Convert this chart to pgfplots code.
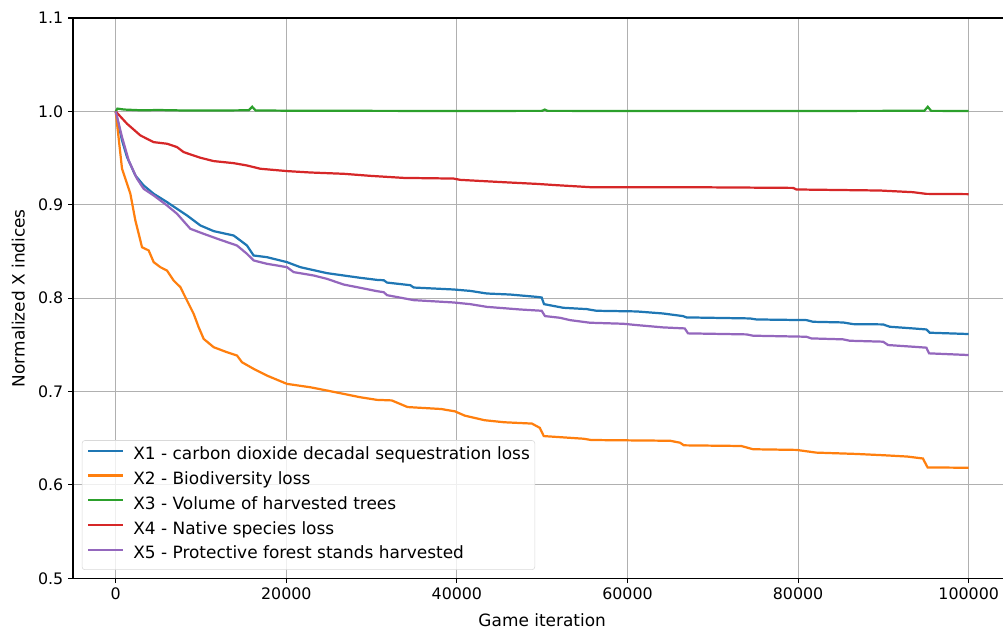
\documentclass[border=0pt]{standalone}
\usepackage{pgfplots}
\pgfplotsset{compat=1.18}
\usepackage{pgfplotstable}
\usepackage{fontspec}
\setmainfont{DejaVu Sans}

\definecolor{C0}{HTML}{1F77B4}
\definecolor{C1}{HTML}{FF7F0E}
\definecolor{C2}{HTML}{2CA02C}
\definecolor{C3}{HTML}{D62728}
\definecolor{C4}{HTML}{9467BD}
\definecolor{GRID}{HTML}{B0B0B0}

% X1 - carbon dioxide
\pgfplotstableread{
x y
0 1.0
742 0.9689
1328 0.9511
2305 0.9314
3281 0.9207
4453 0.9118
6016 0.9029
7188 0.8957
8359 0.8886
9922 0.8779
11484 0.8718
13828 0.8671
14609 0.8618
15391 0.8564
16172 0.8457
17734 0.8439
20078 0.8386
21641 0.8332
24766 0.8268
26719 0.8243
28672 0.8218
30625 0.8196
31423 0.8192
31813 0.8167
34542 0.8139
34932 0.8114
39610 0.8093
41559 0.8078
43509 0.8050
46238 0.8039
49357 0.8014
49942 0.8007
50214 0.7936
52475 0.7897
55205 0.7883
56374 0.7865
61053 0.7858
64172 0.7836
66511 0.7808
66914 0.7794
74336 0.7783
75117 0.7772
80977 0.7765
81758 0.7747
85273 0.7740
86445 0.7722
89961 0.7719
90742 0.7694
93477 0.7676
95039 0.7665
95430 0.7630
100000 0.7616
}\xone

% X2 - biodiversity
\pgfplotstableread{
x y
0 1.0
742 0.9386
1719 0.9118
2305 0.8832
3086 0.8546
3867 0.8511
4453 0.8386
5234 0.8332
6016 0.8296
6797 0.8189
7578 0.8118
8359 0.7975
9141 0.7832
9727 0.7689
10313 0.7564
11484 0.7475
13047 0.7421
14219 0.7386
14805 0.7314
16172 0.7243
17734 0.7171
20078 0.7082
22813 0.7046
24766 0.7011
26719 0.6975
28672 0.6939
30625 0.6911
32361 0.6905
34213 0.6834
38148 0.6813
39769 0.6788
40926 0.6742
43241 0.6693
45556 0.6671
48796 0.6657
49722 0.6611
50185 0.6523
54815 0.6495
55741 0.6481
65000 0.6473
66157 0.6452
66620 0.6424
73333 0.6417
74722 0.6382
79815 0.6375
82130 0.6346
86759 0.6332
90000 0.6318
92778 0.6304
94630 0.6283
95185 0.6187
100000 0.6184
}\xtwo

% X3 - harvested volume
\pgfplotstableread{
x y
0 1.0
200 1.0030
1000 1.0020
3000 1.0012
5000 1.0015
8000 1.0010
12000 1.0010
15600 1.0012
16000 1.0050
16400 1.0010
20000 1.0008
30000 1.0006
40000 1.0005
50000 1.0006
50300 1.0020
50600 1.0006
60000 1.0005
70000 1.0005
80000 1.0005
90000 1.0006
94800 1.0006
95200 1.0050
95600 1.0006
100000 1.0005
}\xthree

% X4 - native species
\pgfplotstableread{
x y
0 1.0
1328 0.9868
2891 0.9743
4453 0.9671
6016 0.9654
7188 0.9618
7969 0.9564
9922 0.9504
11484 0.9468
13828 0.9446
15391 0.9421
16953 0.9386
20078 0.9361
22813 0.9346
26719 0.9332
29864 0.9310
33762 0.9288
39610 0.9281
40390 0.9267
45458 0.9242
49357 0.9224
51696 0.9210
55595 0.9189
66133 0.9189
79414 0.9181
79805 0.9164
89570 0.9153
93477 0.9135
95039 0.9117
100000 0.9114
}\xfour

% X5 - protective stands
\pgfplotstableread{
x y
0 1.0
742 0.9725
1523 0.9475
2500 0.9279
3281 0.9171
4453 0.9100
6016 0.8993
7188 0.8904
8750 0.8743
10313 0.8689
12266 0.8625
14219 0.8564
15391 0.8475
16172 0.8404
17734 0.8368
20078 0.8332
20859 0.8279
23203 0.8243
24766 0.8207
26719 0.8146
28672 0.8111
30625 0.8075
31423 0.8064
31813 0.8032
34932 0.7979
39610 0.7954
41559 0.7936
43509 0.7907
47407 0.7879
49942 0.7865
50331 0.7808
52086 0.7790
53255 0.7765
55595 0.7737
59493 0.7726
61053 0.7712
64172 0.7687
66706 0.7676
67096 0.7623
73945 0.7612
74727 0.7598
80977 0.7587
81563 0.7569
85273 0.7559
86055 0.7544
89961 0.7534
90547 0.7498
93477 0.7480
95039 0.7470
95352 0.7409
100000 0.7391
}\xfive

\begin{document}
\begin{tikzpicture}
\begin{axis}[
    scale only axis,
    width=675.6pt, height=403.4pt,
    xmin=-5000, xmax=105000,
    ymin=0.5, ymax=1.1,
    xtick={0,20000,40000,60000,80000,100000},
    ytick={0.5,0.6,0.7,0.8,0.9,1.0,1.1},
    scaled x ticks=false,
    xticklabel style={/pgf/number format/.cd, fixed, precision=0, 1000 sep={}},
    yticklabel style={/pgf/number format/.cd, fixed, fixed zerofill, precision=1},
    /pgf/number format/assume math mode=true,
    tick label style={font=\fontsize{11.4}{13}\selectfont},
    grid=major,
    grid style={GRID, line width=0.8pt},
    axis line style={line width=0.8pt},
    tick align=outside,
    tick pos=left,
    major tick length=3.5pt,
    tick style={black, line width=0.8pt},
    xlabel={Game iteration},
    ylabel={Normalized X indices},
    every axis x label/.style={at={(rel axis cs:0.5,0)}, anchor=center, yshift=-30pt,
        font=\fontsize{12.2}{14}\selectfont},
    every axis y label/.style={at={(rel axis cs:0,0.5)}, anchor=center, rotate=90, yshift=39.4pt,
        font=\fontsize{12.2}{14}\selectfont},
    legend cell align=left,
    legend image code/.code={\draw[#1] (0pt,3.5pt) -- (25pt,3.5pt);},
    legend style={at={(rel axis cs:0,0)}, anchor=south west, xshift=6.3pt, yshift=6pt,
        draw=black!15, rounded corners=2pt, fill=white, fill opacity=0.8, text opacity=1,
        font=\fontsize{12.2}{14}\selectfont, row sep=6pt, column sep=6.7pt,
        inner xsep=3.6pt, inner ysep=5pt,
        nodes={inner sep=0pt, text height=9pt, text depth=2.8pt}},
    every axis plot/.append style={line width=1.6pt},
]
\addplot[C0] table[x=x,y=y] {\xone};
\addlegendentry{X1 - carbon dioxide decadal sequestration loss}
\addplot[C1] table[x=x,y=y] {\xtwo};
\addlegendentry{X2 - Biodiversity loss}
\addplot[C2] table[x=x,y=y] {\xthree};
\addlegendentry{X3 - Volume of harvested trees}
\addplot[C3] table[x=x,y=y] {\xfour};
\addlegendentry{X4 - Native species loss}
\addplot[C4] table[x=x,y=y] {\xfive};
\addlegendentry{X5 - Protective forest stands harvested}
\end{axis}
\pgfresetboundingbox
\useasboundingbox ([xshift=-52.6pt,yshift=-37.9pt]current axis.south west) rectangle ([xshift=-6pt,yshift=13pt]current axis.north east);
\end{tikzpicture}
\end{document}
